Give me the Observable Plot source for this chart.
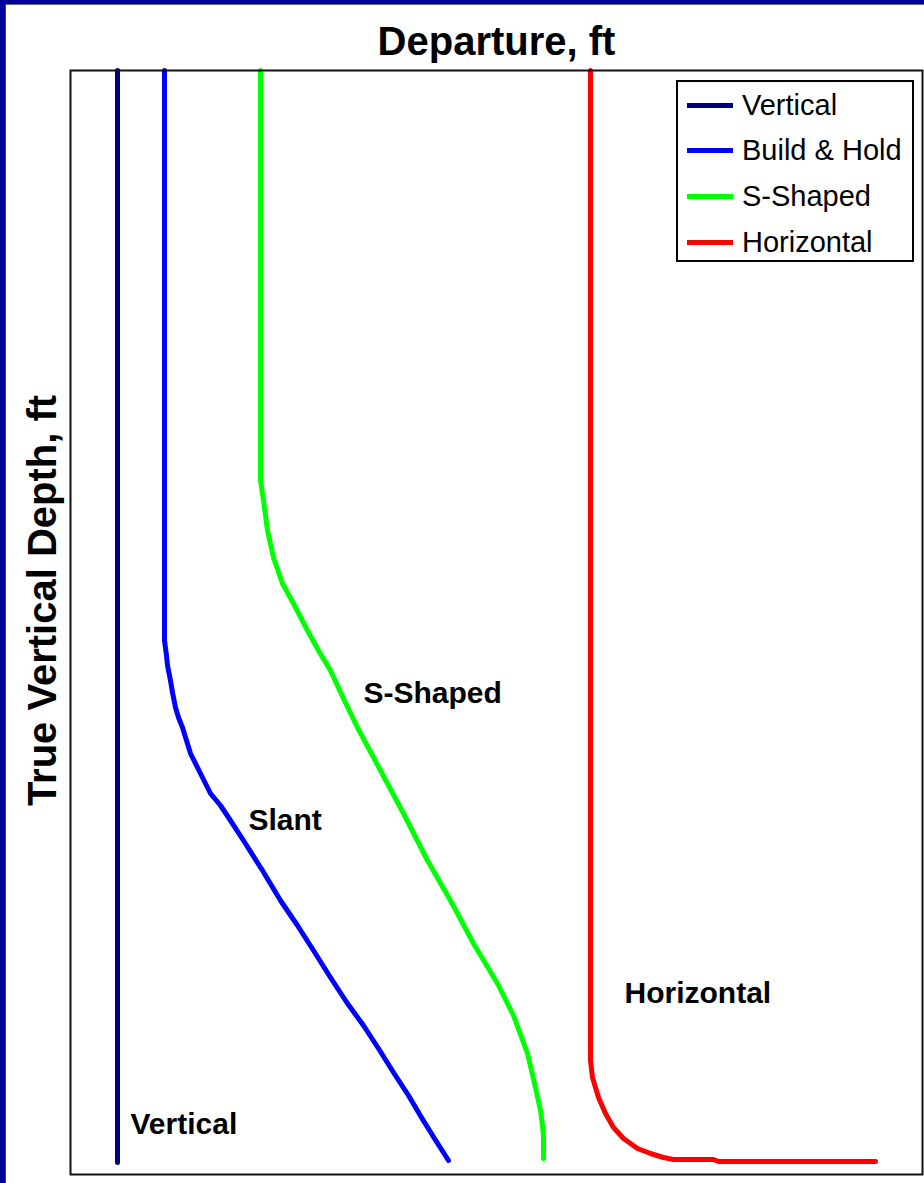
<!DOCTYPE html>
<html>
<head>
<meta charset="utf-8">
<script src="https://cdn.jsdelivr.net/npm/d3@7"></script>
<script src="https://cdn.jsdelivr.net/npm/@observablehq/plot@0.6"></script>
<style>
  html, body { margin: 0; padding: 0; background: #fff; }
  #wrap { position: relative; width: 924px; height: 1183px; overflow: hidden; font-family: "Liberation Sans", Arial, sans-serif; }
  #wrap svg { position: absolute; left: 0; top: 0; }
  #border { position: absolute; left: 0; top: 0; width: 924px; height: 1183px; box-sizing: border-box;
            border-left: 5px solid #00009c; border-top: 4px solid #00009c; pointer-events: none; }
  #border2 { position: absolute; left: 5px; top: 4px; width: 919px; height: 1179px; box-sizing: border-box;
            border-left: 1px solid #444; border-top: 1px solid #666; pointer-events: none; }
  #legend { position: absolute; left: 676px; top: 80px; width: 238px; height: 182px; box-sizing: border-box;
            border: 2px solid #000; background: #fff; }
  .row { position: absolute; left: 0; height: 46px; display: flex; align-items: center; }
  .sw { width: 46px; height: 5px; margin-left: 9px; margin-right: 9px; }
  .lab { font-size: 29px; color: #000; line-height: 1; }
</style>
</head>
<body>
<div id="wrap"></div>
<script>
// Series names and colours
const seriesNames = ["Vertical", "Build & Hold", "S-Shaped", "Horizontal"];
const seriesColors = ["#000080", "#0000ff", "#00ff00", "#ff0000"];

// Departure (ft) and true vertical depth (ft) for each well profile
const verticalDep = [470, 470];
const verticalTvd = [0, 10920];

const buildHoldDep = [940, 940, 960, 970, 1000, 1020, 1050, 1080, 1120, 1160, 1200, 1300, 1400, 1500, 1580, 1730, 1920, 2100, 2270, 2430, 2600, 2770, 2930, 3080, 3230, 3380, 3510, 3640, 3780];
const buildHoldTvd = [0, 5700, 5850, 5950, 6100, 6220, 6370, 6470, 6570, 6700, 6830, 7030, 7230, 7350, 7470, 7700, 8000, 8300, 8550, 8800, 9070, 9330, 9550, 9780, 10020, 10250, 10470, 10680, 10900];

const sShapedDep = [1900, 1900, 1930, 1970, 2030, 2120, 2230, 2370, 2480, 2600, 2730, 2870, 3100, 3330, 3570, 3800, 4030, 4270, 4430, 4570, 4650, 4700, 4720, 4730, 4730];
const sShapedTvd = [0, 4100, 4300, 4600, 4870, 5130, 5330, 5600, 5800, 6000, 6280, 6570, 7000, 7430, 7900, 8300, 8730, 9130, 9450, 9830, 10170, 10400, 10550, 10670, 10880];

const horizontalDep = [5200, 5200, 5220, 5280, 5350, 5430, 5530, 5670, 5800, 5930, 6030, 6430, 6480, 8050];
const horizontalTvd = [0, 9900, 10070, 10270, 10430, 10570, 10680, 10780, 10830, 10870, 10890, 10890, 10910, 10910];

// In-chart annotation labels (anchored at departure / depth)
const noteText = ["S-Shaped", "Slant", "Horizontal", "Vertical"];
const noteDep = [2930, 1780, 5540, 600];
const noteTvd = [6230, 7500, 9230, 10540];

const xDomain = [0, 8520];
const yDomain = [0, 11040];

const deps = [verticalDep, buildHoldDep, sShapedDep, horizontalDep];
const tvds = [verticalTvd, buildHoldTvd, sShapedTvd, horizontalTvd];
const rows = [];
seriesNames.forEach((name, i) => {
  deps[i].forEach((d, j) => rows.push({series: name, dep: d, tvd: tvds[i][j]}));
});
const notes = noteText.map((t, i) => ({text: t, dep: noteDep[i], tvd: noteTvd[i]}));

const FONT = "Liberation Sans, Arial, sans-serif";

const chart = Plot.plot({
  width: 924,
  height: 1183,
  marginLeft: 70,
  marginTop: 70,
  marginRight: 2,
  marginBottom: 9,
  style: {fontFamily: FONT, background: "transparent"},
  x: {domain: xDomain, axis: null},
  y: {domain: yDomain, reverse: true, axis: null},
  color: {domain: seriesNames, range: seriesColors},
  marks: [
    Plot.line(rows, {x: "dep", y: "tvd", z: "series", stroke: "series", strokeWidth: 5, curve: "linear", strokeLinejoin: "round"}),
    Plot.frame({stroke: "#111", strokeWidth: 2}),
    Plot.text(notes, {x: "dep", y: "tvd", text: "text", textAnchor: "start", lineAnchor: "middle", fontSize: 30, fontWeight: "bold", fill: "#000"}),
    Plot.text(["Departure, ft"], {frameAnchor: "top", textAnchor: "middle", lineAnchor: "middle", dy: -28, fontSize: 40, fontWeight: "bold", fill: "#000"}),
    Plot.text(["True Vertical Depth, ft"], {frameAnchor: "left", textAnchor: "middle", lineAnchor: "middle", rotate: -90, dx: -27, dy: -22, fontSize: 40, fontWeight: "bold", fill: "#000"})
  ]
});

const wrap = document.getElementById("wrap");
wrap.appendChild(chart);

// Legend
const legend = document.createElement("div");
legend.id = "legend";
seriesNames.forEach((name, i) => {
  const r = document.createElement("div");
  r.className = "row";
  r.style.top = (0 + i * 45.7) + "px";
  const sw = document.createElement("div");
  sw.className = "sw";
  sw.style.background = seriesColors[i];
  const lab = document.createElement("span");
  lab.className = "lab";
  lab.textContent = name;
  r.appendChild(sw); r.appendChild(lab);
  legend.appendChild(r);
});
wrap.appendChild(legend);

const b = document.createElement("div"); b.id = "border"; wrap.appendChild(b);
const b2 = document.createElement("div"); b2.id = "border2"; wrap.appendChild(b2);
</script>
</body>
</html>
